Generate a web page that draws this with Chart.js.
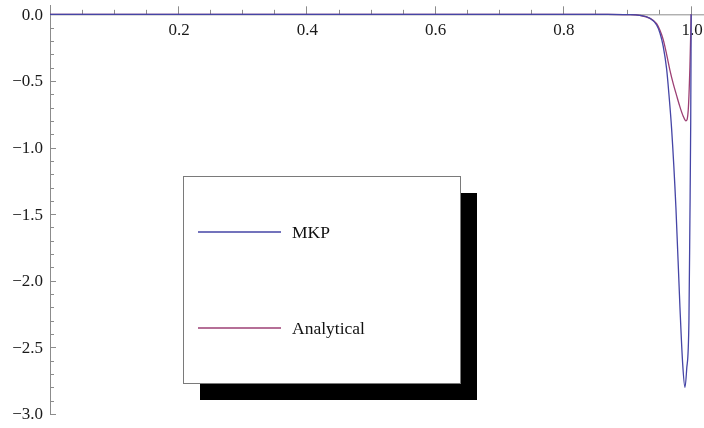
<!DOCTYPE html>
<html>
<head>
<meta charset="utf-8">
<script src="https://cdn.jsdelivr.net/npm/chart.js@4/dist/chart.umd.min.js"></script>
<style>
  html, body { margin: 0; padding: 0; background: #fff; }
  canvas { display: block; }
</style>
</head>
<body>
<canvas id="plot" width="704" height="428"></canvas>
<script>
// Series: x positions and values
const mkpX = [0, 0.3, 0.6, 0.8, 0.87, 0.9, 0.92, 0.9357, 0.9461, 0.9513, 0.9564, 0.9617, 0.9653, 0.9695, 0.9762, 0.9825, 0.9867, 0.9903, 0.9929, 0.9965, 0.998, 0.9993, 1.0];
const mkpY = [0, 0, 0, 0, 0, -0.002, -0.008, -0.03, -0.08, -0.14, -0.24, -0.41, -0.6, -0.86, -1.45, -2.2, -2.62, -2.8, -2.67, -2.3, -1.55, -0.8, 0];
const anaX = [0, 0.3, 0.6, 0.8, 0.87, 0.9, 0.92, 0.9357, 0.9461, 0.9513, 0.9564, 0.9617, 0.9669, 0.972, 0.9773, 0.9825, 0.9876, 0.9918, 0.9954, 0.998, 1.0];
const anaY = [0, 0, 0, 0, 0, -0.002, -0.008, -0.03, -0.07, -0.12, -0.19, -0.3, -0.42, -0.52, -0.61, -0.695, -0.765, -0.8, -0.72, -0.4, 0];
const seriesNames = ["MKP", "Analytical"];

// Axis ticks
const xMajor = [0.2, 0.4, 0.6, 0.8, 1.0];
const yMajor = [0, -0.5, -1.0, -1.5, -2.0, -2.5, -3.0];

const FONT = '"Liberation Serif", "Times New Roman", serif';
const AXIS_COLOR = "#8c8c8c";

function toPoints(xs, ys) {
  return xs.map((x, i) => ({ x: x, y: ys[i] }));
}

function fmt(v) {
  const s = Math.abs(v).toFixed(1);
  return v < 0 ? "\u2212" + s : s;
}

// Axes through the origin, drawn under the curves
const axesPlugin = {
  id: "axes",
  beforeDatasetsDraw(chart) {
    const ctx = chart.ctx;
    const xs = chart.scales.x;
    const ys = chart.scales.y;
    const area = chart.chartArea;
    const x0 = xs.getPixelForValue(0);
    const y0 = ys.getPixelForValue(0);

    ctx.save();
    ctx.strokeStyle = AXIS_COLOR;
    ctx.lineWidth = 1;

    ctx.beginPath();
    ctx.moveTo(x0, y0 + 0.5);
    ctx.lineTo(area.right, y0 + 0.5);
    ctx.moveTo(x0 + 0.5, area.top);
    ctx.lineTo(x0 + 0.5, ys.getPixelForValue(-3));
    ctx.stroke();

    // x ticks every 0.05, pointing up
    ctx.beginPath();
    for (let i = 1; i <= 20; i++) {
      const v = i * 0.05;
      const px = Math.round(xs.getPixelForValue(v)) + 0.5;
      const len = i % 4 === 0 ? 8 : 4.5;
      ctx.moveTo(px, y0);
      ctx.lineTo(px, y0 - len);
    }
    // y ticks every 0.1, pointing right
    for (let i = 1; i <= 30; i++) {
      const v = -i * 0.1;
      const py = Math.round(ys.getPixelForValue(v)) + 0.5;
      const len = i % 5 === 0 ? 6 : 4;
      ctx.moveTo(x0, py);
      ctx.lineTo(x0 + len, py);
    }
    ctx.stroke();

    ctx.fillStyle = "#1a1a1a";
    ctx.font = "17px " + FONT;
    ctx.textAlign = "center";
    ctx.textBaseline = "middle";
    xMajor.forEach((v) => {
      ctx.fillText(fmt(v), xs.getPixelForValue(v) + 1, y0 + 16);
    });
    ctx.textAlign = "right";
    yMajor.forEach((v) => {
      ctx.fillText(fmt(v), x0 - 7, ys.getPixelForValue(v) + 1);
    });
    ctx.restore();
  },
};

// Framed legend with a drop shadow
const legendPlugin = {
  id: "boxLegend",
  afterDraw(chart) {
    const ctx = chart.ctx;
    const box = { left: 183, top: 176, width: 277, height: 207 };
    const shadow = 17;
    ctx.save();
    ctx.fillStyle = "#000";
    ctx.fillRect(box.left + shadow, box.top + shadow, box.width, box.height);
    ctx.fillStyle = "#fff";
    ctx.fillRect(box.left, box.top, box.width, box.height);
    ctx.strokeStyle = "#7a7a7a";
    ctx.lineWidth = 1;
    ctx.strokeRect(box.left + 0.5, box.top + 0.5, box.width, box.height);

    const rows = [232, 328];
    ctx.font = "17.5px " + FONT;
    ctx.textAlign = "left";
    ctx.textBaseline = "middle";
    chart.data.datasets.forEach((ds, i) => {
      ctx.strokeStyle = ds.borderColor;
      ctx.lineWidth = 1.3;
      ctx.beginPath();
      ctx.moveTo(198, rows[i]);
      ctx.lineTo(281, rows[i]);
      ctx.stroke();
      ctx.fillStyle = "#111";
      ctx.fillText(ds.label, 292, rows[i] + 1);
    });
    ctx.restore();
  },
};

new Chart(document.getElementById("plot"), {
  type: "line",
  data: {
    datasets: [
      {
        label: seriesNames[0],
        data: toPoints(mkpX, mkpY),
        borderColor: "#4545a6",
        borderWidth: 1.3,
        pointRadius: 0,
        cubicInterpolationMode: "monotone",
        fill: false,
      },
      {
        label: seriesNames[1],
        data: toPoints(anaX, anaY),
        borderColor: "#9c3f74",
        borderWidth: 1.3,
        pointRadius: 0,
        cubicInterpolationMode: "monotone",
        fill: false,
      },
    ],
  },
  options: {
    responsive: false,
    animation: false,
    layout: { padding: { left: 50, right: 0, top: 5, bottom: 14 } },
    scales: {
      x: { type: "linear", min: 0, max: 1.02, display: false },
      y: { type: "linear", min: -3, max: 0.07, display: false },
    },
    plugins: {
      legend: { display: false },
      tooltip: { enabled: false },
    },
  },
  plugins: [axesPlugin, legendPlugin],
});
</script>
</body>
</html>
